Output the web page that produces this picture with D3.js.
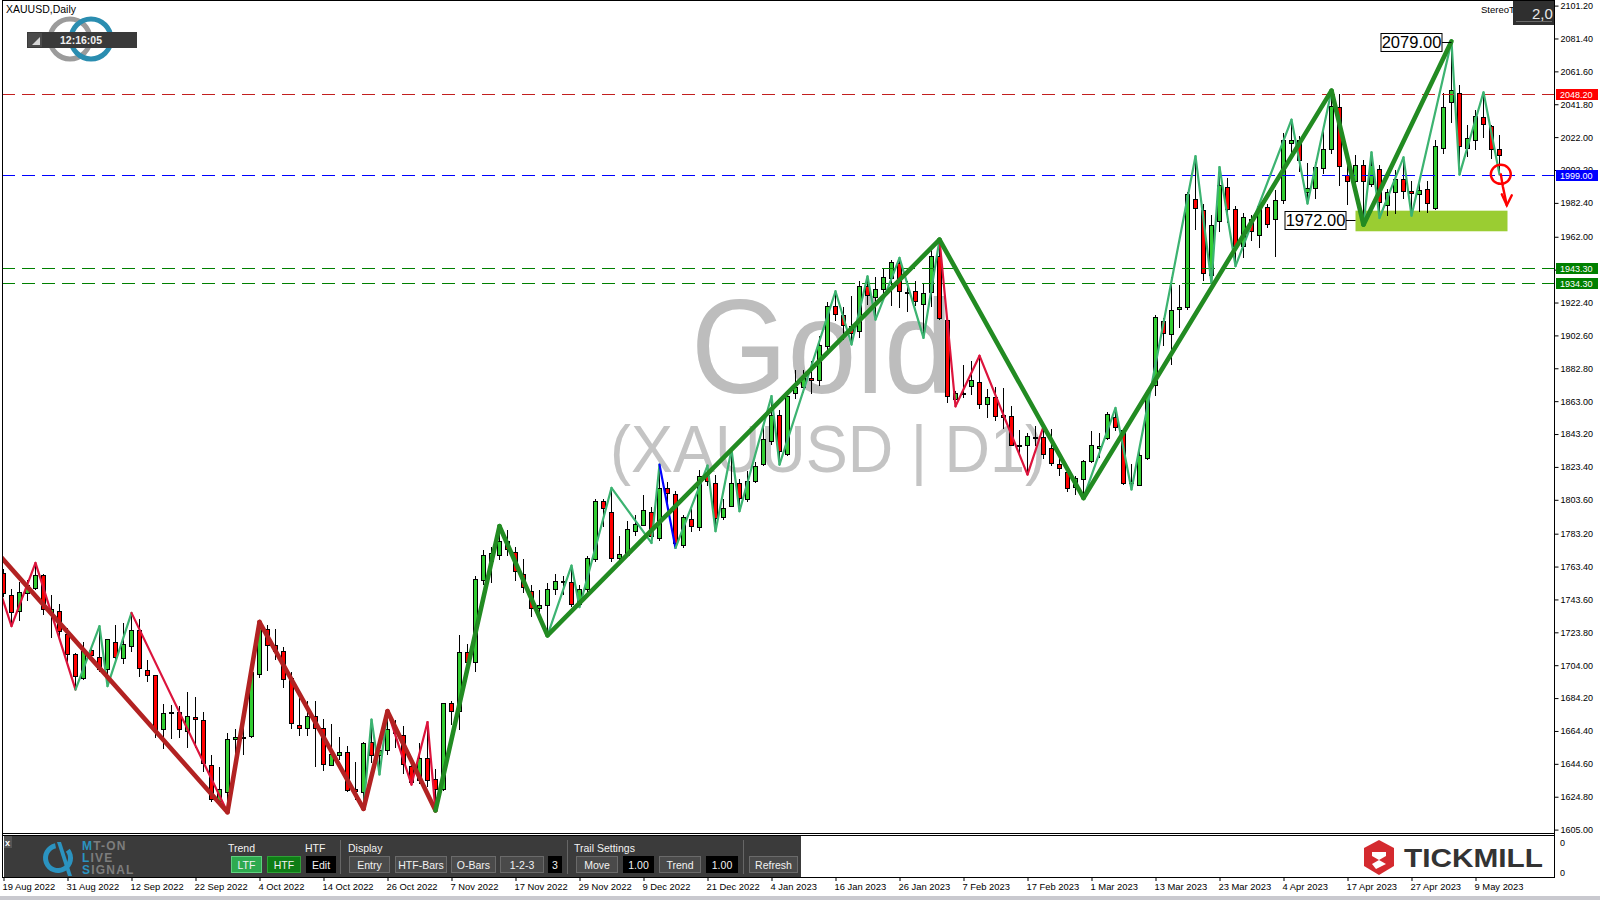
<!DOCTYPE html>
<html><head><meta charset="utf-8">
<script src="https://cdn.jsdelivr.net/npm/d3@7"></script>
<style>
html,body{margin:0;padding:0;background:#fff;overflow:hidden;}
svg{display:block;}
text{font-family:"Liberation Sans",Arial,sans-serif;}
</style></head><body>
<svg id="c" width="1600" height="900"></svg>
<script>
// ---------------- DATA ----------------
const dateLabels = ["19 Aug 2022","31 Aug 2022","12 Sep 2022","22 Sep 2022","4 Oct 2022","14 Oct 2022","26 Oct 2022","7 Nov 2022","17 Nov 2022","29 Nov 2022","9 Dec 2022","21 Dec 2022","4 Jan 2023","16 Jan 2023","26 Jan 2023","7 Feb 2023","17 Feb 2023","1 Mar 2023","13 Mar 2023","23 Mar 2023","4 Apr 2023","17 Apr 2023","27 Apr 2023","9 May 2023"];
const dateLabelBars = [0,8,16,24,32,40,48,56,64,72,80,88,96,104,112,120,128,136,144,152,160,168,176,184];
const priceTicks = [2101.20,2081.40,2061.60,2041.80,2022.00,2002.20,1982.40,1962.00,1942.20,1922.40,1902.60,1882.80,1863.00,1843.20,1823.40,1803.60,1783.20,1763.40,1743.60,1723.80,1704.00,1684.20,1664.40,1644.60,1624.80,1605.00];

const open = [1759.6,1746.4,1736.7,1747.6,1750.6,1758.4,1735.5,1736.7,1722.9,1710.8,1696.4,1713,1709,1701.8,1718,1708.4,1715.8,1724.9,1701.4,1697.8,
1665.3,1675.5,1675.7,1664.3,1672.9,1670.9,1644,1622.1,1627.5,1659.6,1660.8,1661.2,1698.8,1725.9,1716.2,1712.4,1696.4,1667.9,1666.3,1673.7,
1666.3,1644.2,1650.2,1651.8,1629.5,1627.5,1657.8,1649.8,1652.8,1664.9,1662.1,1643.6,1634.8,1648.2,1635.6,1629.5,1681.3,1676.2,1711.8,1706,
1755.6,1767,1770.2,1778.7,1772,1759,1748.6,1738.5,1740,1750,1754.6,1754,1741,1750,1768,1803.1,1796.3,1768.6,1770.6,1784.7,
1788.7,1796.3,1780.7,1810.8,1807.2,1776.2,1792.1,1787.3,1817.8,1813.8,1793.3,1800.1,1813.8,1804.1,1814.8,1825.2,1838.9,1854.5,1831.4,1868,
1871.6,1877,1876,1896.5,1920.2,1915.1,1908.1,1905.1,1932.2,1925.8,1930.6,1937.2,1946.2,1928.8,1929.2,1921.8,1928.6,1950.3,1912.1,1864,
1867.7,1872,1874.4,1861.5,1865.6,1854.9,1853.9,1836.3,1836.3,1841.5,1841.5,1834.9,1825.2,1820.2,1811.4,1816.2,1826.8,1834.9,1840.9,1853.3,
1845.5,1813.8,1812.8,1828.8,1873,1911.1,1903.5,1918.5,1919.5,1984.8,1978,1939.2,1971.3,1992,1978.8,1956.3,1972.7,1963.3,1980,1972.7,
1984,2018.5,2020.5,1988.8,1991.4,2003.5,2014.9,2040.2,1999,1995.4,2005.1,1994,2002.9,1981.4,1989,1996.8,1989.8,1988,1990.8,1979.4,
2015.5,2043,2048.6,2015.5,2020.5,2034,2028.5,2014.9];
const high = [1762,1749.6,1754.2,1755.6,1765.6,1759.2,1746,1741.1,1726.5,1711.4,1718,1715,1727.5,1720,1728,1729.5,1735.5,1731.9,1707.4,1698.2,
1680.9,1680.3,1679.7,1688,1685,1675.7,1650,1642.8,1662.9,1665.3,1675.5,1700,1729.5,1728.5,1726,1715,1699.8,1684.3,1682.7,1682.3,
1671.7,1668.7,1660.8,1655.2,1645.8,1658,1671.3,1656.8,1676.3,1671.3,1667.3,1648.6,1657.2,1669.7,1641.2,1681.5,1682.5,1722,1717,1757.6,
1773.2,1775,1787.7,1785.7,1775.2,1768,1752,1749,1753.6,1759,1758,1764,1752,1770,1804.1,1804.1,1810.8,1781.7,1790.7,1794.7,
1806.4,1799,1824.8,1814.4,1809.2,1794.7,1798.1,1821.8,1824.2,1818.8,1804.1,1833.9,1816.2,1820.8,1826.2,1849.9,1865.9,1857.9,1869,1882,
1881.6,1887,1902.1,1922.6,1929.2,1920,1926.2,1935.2,1938.2,1937.8,1942.6,1948.2,1949.3,1935.2,1935.2,1934.2,1955.3,1960.3,1913.1,1869,
1885,1887,1890.4,1870.4,1871.6,1871,1860,1845.9,1843.9,1848,1848,1846.3,1829.8,1822.8,1817.8,1827.8,1844.9,1844,1856.3,1858.9,
1846.3,1825,1835.9,1870,1915.1,1913.1,1937.6,1933,1989,2010.5,1982,1975,2004,1997.4,1980.8,1976.4,1975.4,1981.4,1981.8,1990,
2024.5,2032.5,2022.5,2006.5,2007,2028.5,2050,2048,2012.5,2011.5,2008,2012.9,2005.5,1990.8,2002.5,2009.8,1995.4,1995.4,1995.4,2020,
2048.6,2079.7,2053.6,2029,2038.2,2049,2029.5,2023];
const low = [1745,1727.5,1730.5,1742.5,1749,1734.1,1720.5,1721.1,1706,1689.3,1695,1707.4,1700,1691.4,1705,1705,1712,1697,1694,1660.3,
1653.8,1659.7,1660.3,1654.2,1654.2,1639.6,1621.5,1620.1,1615.5,1641.6,1650,1660.3,1696,1700.4,1707.4,1690.4,1665.3,1661.3,1661.3,1642.8,
1640.2,1643.6,1647.2,1627.5,1623.1,1617.5,1645,1638.2,1650.2,1654.2,1638.2,1631.8,1632.2,1630.8,1616.5,1628.5,1668,1665,1702,1700,
1752,1753.6,1767.6,1770,1754.6,1747.5,1733,1731,1722,1746,1746,1739,1739,1746,1766,1787,1766,1767.6,1769.2,1781.7,
1787.7,1777.6,1779,1799,1774.6,1774.6,1784.1,1784.7,1811.8,1784.7,1791.3,1799.3,1796.7,1802,1813.8,1823.8,1836.9,1824.8,1830.2,1864.4,
1868,1867.6,1872,1893.1,1911.1,1900,1897.1,1901.1,1921.2,1912.1,1925,1920.2,1919,1916.5,1920.5,1901.1,1920,1911.7,1861.9,1859.9,
1865,1867,1858.3,1853,1850.9,1846,1835.9,1829.8,1818.8,1835.9,1828,1824.2,1817.8,1808,1806.5,1804.7,1825.8,1829,1839.9,1845,
1812.8,1809.8,1811.8,1827.8,1866,1896,1885,1907,1918,1966.3,1935.2,1934,1965,1970,1944.3,1949,1959.3,1955.3,1967.3,1949.7,
1982,2008,2001,1982,1985,2000,2012,1992.4,1981,1990,1969.3,1992,1973.3,1974.7,1976,1985,1974.7,1976.7,1976.4,1978,
2012,2030.5,1999.4,2010,2014,2021.5,2009,1999.4];
const close = [1747.6,1736.1,1748.2,1752,1758.4,1737.9,1737.9,1724.7,1710.8,1697.4,1712.4,1710,1701.8,1719.5,1709,1716.8,1724.9,1702.6,1697.8,1664.3,
1675.3,1675.7,1665.3,1673.3,1671.7,1645.2,1623.5,1629.5,1659.6,1660.8,1661,1699.8,1726.5,1716.2,1712.8,1695.4,1668.9,1666.3,1673.7,1666.3,
1644.8,1650.6,1651.8,1629.1,1628,1657.2,1649.8,1653.2,1665.7,1663.3,1644.6,1633.8,1648.2,1634.8,1629.5,1681.3,1676.2,1711.8,1706,1755.9,
1770.6,1771.6,1778.7,1774,1760.6,1751.2,1738.5,1740,1750,1754.6,1754.4,1741,1750,1768.6,1803.1,1798.7,1768.6,1771,1786.1,1789.3,
1797.7,1781.7,1810.8,1807.8,1777.6,1793.3,1788.1,1817.8,1814.8,1792.7,1798.7,1813.8,1804.7,1814.8,1823.8,1840.3,1854.5,1832.8,1866.4,1871.6,
1877,1875.6,1897.1,1920.5,1915.7,1909.1,1904.1,1932.2,1927.2,1930.8,1937.8,1946.8,1929.2,1928.5,1923.6,1928.2,1950.3,1913.1,1866.4,1867.9,
1867.6,1875.6,1861.5,1865.6,1854.3,1853.5,1836.9,1836.1,1841.9,1841.5,1831.4,1825.8,1822.8,1810.8,1816.8,1826.8,1836.3,1835.9,1855.3,1847.5,
1813.8,1815,1830.8,1867.6,1913.7,1904.1,1918.1,1919.7,1987.9,1979.4,1940.2,1968.9,1993.4,1978.8,1956.3,1974,1965.3,1980.4,1969.9,1984,
2020.1,2020.5,2008.1,1991.4,2004.1,2014.9,2041,2004.9,1995.4,2005.1,1995.4,2005.1,1982.8,1988.8,1996.8,1989.4,1988.4,1990.4,1982.4,2016.9,
2040.2,2050.2,2016.9,2021.5,2034.6,2030.2,2014.9,2011.5];

// higher-timeframe zigzag pivots (bar index, price) and trend of each segment
const htfBars   = [-6,28,32,45,48,54,62,68,117,135,166,170,181];
const htfPrices = [1800,1615.5,1730,1617.5,1676.3,1616.5,1787.7,1722,1960.3,1804.7,2050,1969.3,2079.7];
const htfTrend  = ['d','d','d','d','d','u','u','u','u','u','u','u'];
// lower-timeframe zigzag pivots
const ltfBars   = [-1,1,4,9,12,13,16,28,32,45,46,47,48,51,53,54,62,68,71,72,76,81,82,84,88,89,91,92,96,97,104,106,108,109,112,115,117,119,122,128,130,135,139,141,149,151,152,154,161,163,166,170,171,172,175,176,181,182,185,187];
const ltfPrices = [1757,1727.5,1765.6,1689.3,1727.5,1691.4,1735.5,1615.5,1730,1617.5,1671.3,1638.2,1676.3,1632.1,1669.7,1616.5,1787.7,1722,1764,1739,1810.8,1777.6,1824.8,1774.6,1824.2,1784.7,1833.9,1796.7,1866,1824.8,1929.2,1897.1,1938.2,1912.1,1949.3,1901.1,1960.3,1859.9,1890.4,1818.8,1847.9,1804.7,1858.9,1809.8,2010.5,1934,2004,1944.3,2032.5,1982,2050,1969.3,2012.9,1973.3,2009.8,1974.7,2079.7,1999.4,2049,1999.4];
const ltfTrend  = ['d','d','d','u','u','u','d','d','d','u','u','u','d','d','d','u','u','u','u','u','u','u','b','u','u','u','u','u','u','u','u','u','u','u','u','u','d','d','d','d','d','u','u','u','u','u','u','u','u','u','u','u','u','u','u','u','u','u','u'];

const levelValues = [2048.20,1999.00,1943.30,1934.30];
const levelKinds  = ['res','pivot','sup','sup'];
const zone = {fromBar:169, toBar:188, top:1977.7, bottom:1965.3};
const notes = [{bar:181, price:2079.00},{bar:169, price:1972.00}];
const signal = {bar:187, price:1999.0};

// ---------------- LAYOUT ----------------
const svg = d3.select('#c');
const PL=2, PR=1554, PT=0, PB=833;
const x = d3.scaleLinear().domain([0,187]).range([3.5,3.5+8*187]);
const y = d3.scaleLinear().domain([1605,2101.2]).range([829.6,5.6]);

const colors = {bull:'#32CD32', bear:'#FF0000', u:'#3CB371', d:'#DC143C', b:'#0000FF',
  U:'#228B22', D:'#B22222', res:'#C21F1F', pivot:'#0000FF', sup:'#008000'};

svg.append('rect').attr('width',1600).attr('height',900).attr('fill','#fff');
const defs = svg.append('defs');
defs.append('clipPath').attr('id','pc').append('rect').attr('x',PL+1).attr('y',PT+1).attr('width',PR-PL-1).attr('height',PB-PT-1);

const plot = svg.append('g').attr('clip-path','url(#pc)');

// watermark
plot.append('text').attr('x',822).attr('y',393).attr('text-anchor','middle')
  .attr('font-family','"Open Sans",sans-serif').attr('font-size',134).attr('fill','#bdbdbd')
  .attr('textLength',262).attr('lengthAdjust','spacingAndGlyphs').text('Gold');
plot.append('text').attr('x',828).attr('y',472).attr('text-anchor','middle')
  .attr('font-family','"Open Sans",sans-serif').attr('font-size',66).attr('fill','#c4c4c4')
  .attr('textLength',436).attr('lengthAdjust','spacingAndGlyphs').text('(XAUUSD | D1)');

// zone
plot.append('rect').attr('x',x(zone.fromBar)).attr('width',x(zone.toBar)-x(zone.fromBar))
  .attr('y',y(zone.top)).attr('height',y(zone.bottom)-y(zone.top)).attr('fill','#9ACD32');

// candles
const idx = d3.range(open.length);
const cg = plot.append('g');
cg.selectAll('line').data(idx).join('line')
  .attr('x1',i=>x(i)).attr('x2',i=>x(i))
  .attr('y1',i=>Math.round(y(high[i]))).attr('y2',i=>Math.round(y(low[i])))
  .attr('stroke','#000').attr('stroke-width',1);
cg.selectAll('rect').data(idx).join('rect')
  .attr('x',i=>x(i)-2).attr('width',4)
  .attr('y',i=>Math.round(y(Math.max(open[i],close[i])))+0.5)
  .attr('height',i=>Math.max(1,Math.round(y(Math.min(open[i],close[i])))-Math.round(y(Math.max(open[i],close[i])))))
  .attr('fill',i=>close[i]>=open[i]?colors.bull:colors.bear)
  .attr('stroke','#000').attr('stroke-width',1);

// levels
const lg = plot.append('g');
levelValues.forEach((v,k)=>{
  lg.append('line').attr('x1',PL).attr('x2',PR).attr('y1',Math.round(y(v))+0.5).attr('y2',Math.round(y(v))+0.5)
    .attr('stroke',colors[levelKinds[k]]).attr('stroke-width',1).attr('stroke-dasharray','13,7');
});

// zigzags
function drawZig(bars, prices, trend, width, upper){
  for(let k=0;k<bars.length-1;k++){
    const key = upper ? trend[k].toUpperCase() : trend[k];
    plot.append('line').attr('x1',x(bars[k])).attr('y1',y(prices[k]))
      .attr('x2',x(bars[k+1])).attr('y2',y(prices[k+1]))
      .attr('stroke',colors[key]).attr('stroke-width',width).attr('stroke-linecap','round');
  }
}
drawZig(ltfBars, ltfPrices, ltfTrend, 2.2, false);
drawZig(htfBars, htfPrices, htfTrend, 4.6, true);

// price notes
notes.forEach(n=>{
  const ax=x(n.bar), ay=y(n.price);
  const bw=61, bh=18, bx=ax-10-bw;
  plot.append('line').attr('x1',bx+bw).attr('x2',ax).attr('y1',Math.round(ay)+0.5).attr('y2',Math.round(ay)+0.5).attr('stroke','#000');
  plot.append('rect').attr('x',bx+0.5).attr('y',Math.round(ay-bh/2)+0.5).attr('width',bw).attr('height',bh)
    .attr('fill','#fff').attr('stroke','#000');
  plot.append('text').attr('x',bx+bw/2+0.5).attr('y',ay+6).attr('text-anchor','middle')
    .attr('font-size',16.5).attr('fill','#000').text(n.price.toFixed(2));
});

// signal circle + arrow
{
  const sx=x(signal.bar)+1.3, sy=y(signal.price)-1;
  const sg=plot.append('g').attr('stroke','#FF0000').attr('stroke-width',2.4).attr('fill','none').attr('stroke-linecap','round');
  sg.append('ellipse').attr('cx',sx).attr('cy',sy).attr('rx',10).attr('ry',9.5);
  sg.append('path').attr('d',`M${sx},${sy} L${sx+2},${sy+12} L${sx+6},${sy+31}`);
  sg.append('path').attr('d',`M${sx+1},${sy+20} L${sx+6},${sy+31} L${sx+11},${sy+21}`);
}

// top-left labels
svg.append('text').attr('x',6).attr('y',13).attr('font-size',10.5).attr('fill','#000').text('XAUUSD,Daily');
{
  const lg2=svg.append('g');
  lg2.append('circle').attr('cx',70).attr('cy',39).attr('r',20).attr('fill','none').attr('stroke','#9b9b9b').attr('stroke-width',5);
  lg2.append('circle').attr('cx',91).attr('cy',39).attr('r',20).attr('fill','none').attr('stroke','#2a8db0').attr('stroke-width',5);
  lg2.append('rect').attr('x',27).attr('y',32).attr('width',110).attr('height',16).attr('fill','#3a3a3a');
  lg2.append('rect').attr('x',28).attr('y',33).attr('width',14).attr('height',14).attr('fill','#4b4b4b');
  lg2.append('path').attr('d','M32,45 L40,45 L40,37 Z').attr('fill','#d8d8d8');
  lg2.append('text').attr('x',81).attr('y',44).attr('text-anchor','middle').attr('font-size',10.5).attr('font-weight','bold').attr('fill','#f0f0f0').text('12:16:05');
}
// top-right
svg.append('text').attr('x',1481).attr('y',13).attr('font-size',9.5).attr('fill','#000').text('StereoT');
svg.append('rect').attr('x',1513).attr('y',1).attr('width',41).attr('height',24).attr('fill','#2f2f2f');
svg.append('line').attr('x1',1516).attr('x2',1552).attr('y1',21.5).attr('y2',21.5).attr('stroke','#6a6a6a');
svg.append('text').attr('x',1532).attr('y',19).attr('font-size',15).attr('fill','#e8e8e8').text('2,0');

// frame
svg.append('line').attr('x1',PL).attr('x2',PR).attr('y1',0.5).attr('y2',0.5).attr('stroke','#000');
svg.append('line').attr('x1',PL+0.5).attr('x2',PL+0.5).attr('y1',0).attr('y2',878).attr('stroke','#000');
svg.append('line').attr('x1',PR+0.5).attr('x2',PR+0.5).attr('y1',0).attr('y2',878).attr('stroke','#000');
svg.append('line').attr('x1',PL).attr('x2',PR).attr('y1',833.5).attr('y2',833.5).attr('stroke','#000');
svg.append('line').attr('x1',PL).attr('x2',PR).attr('y1',835.5).attr('y2',835.5).attr('stroke','#000');
svg.append('line').attr('x1',PL).attr('x2',PR).attr('y1',877.5).attr('y2',877.5).attr('stroke','#000');

// price axis
const yAxis = d3.axisRight(y).tickValues(priceTicks).tickFormat(d=>d.toFixed(2)).tickSize(4).tickPadding(2);
const ya = svg.append('g').attr('transform',`translate(${PR+0.5},0)`).call(yAxis);
ya.select('.domain').remove();
ya.selectAll('text').attr('font-family','"Liberation Sans",Arial,sans-serif').attr('font-size',9).attr('fill','#000');
ya.selectAll('line').attr('stroke','#000');

// level labels on the axis
levelValues.forEach((v,k)=>{
  const yy=Math.round(y(v));
  svg.append('rect').attr('x',PR+2).attr('y',yy-5).attr('width',42).attr('height',11).attr('fill',colors[levelKinds[k]==='res'?'bear':levelKinds[k]]);
  svg.append('text').attr('x',PR+6).attr('y',yy+4).attr('font-size',9).attr('fill','#fff').text(v.toFixed(2));
});

// sub-window axis
svg.append('text').attr('x',1560).attr('y',846).attr('font-size',9).text('0');
svg.append('text').attr('x',1560).attr('y',876).attr('font-size',9).text('0');

// date axis
const xAxis = d3.axisBottom(x).tickValues(dateLabelBars).tickFormat((d,i)=>dateLabels[i]).tickSize(3).tickPadding(2);
const xa = svg.append('g').attr('transform','translate(0,878)').call(xAxis);
xa.select('.domain').remove();
xa.selectAll('text').attr('font-family','"Liberation Sans",Arial,sans-serif').attr('font-size',9.4)
  .attr('text-anchor','start').attr('dx',-1.5).attr('fill','#000');
xa.selectAll('line').attr('stroke','#000');
svg.append('rect').attr('x',0).attr('y',896).attr('width',1600).attr('height',4).attr('fill','#c9c9cf');

// control panel
{
  const p=svg.append('g');
  p.append('rect').attr('x',4).attr('y',836).attr('width',797).attr('height',41).attr('fill','#3b3b3b');
  p.append('rect').attr('x',4).attr('y',836).attr('width',8).attr('height',12).attr('fill','#555');
  p.append('text').attr('x',5).attr('y',846).attr('font-size',9).attr('font-weight','bold').attr('fill','#fff').text('x');
  // logo
  p.append('path').attr('d',d3.arc()({innerRadius:10,outerRadius:15,startAngle:0.9,endAngle:2*Math.PI-0.2}))
    .attr('transform','translate(58,858)').attr('fill','#2b93c0');
  p.append('path').attr('d','M57,842 L61,842 L72,876 L68,876 Z').attr('fill','#2b93c0');
  const lt=[['M','T-ON',850],['L','IVE',862],['S','IGNAL',874]];
  lt.forEach(r=>{
    const t=p.append('text').attr('x',82).attr('y',r[2]).attr('font-size',12).attr('font-weight','bold').attr('letter-spacing',1.2);
    t.append('tspan').attr('fill','#2b93c0').text(r[0]);
    t.append('tspan').attr('fill','#7d7d7d').text(r[1]);
  });
  const lab=(xx,s)=>p.append('text').attr('x',xx).attr('y',852).attr('font-size',10.5).attr('fill','#f2f2f2').text(s);
  lab(228,'Trend'); lab(305,'HTF'); lab(348,'Display'); lab(574,'Trail Settings');
  const btn=(x0,x1,s,fill,stroke)=>{
    p.append('rect').attr('x',x0+0.5).attr('y',856.5).attr('width',x1-x0).attr('height',16).attr('fill',fill).attr('stroke',stroke);
    p.append('text').attr('x',(x0+x1)/2+0.5).attr('y',868.5).attr('text-anchor','middle').attr('font-size',10.5).attr('fill','#f2f2f2').text(s);
  };
  btn(231,261,'LTF','#2eaa4f','#5fd17f');
  btn(267,300,'HTF','#0f7d16','#2fa036');
  btn(306,335,'Edit','#000','#000');
  btn(349,389,'Entry','#4a4a4a','#6a6a6a');
  btn(395,446,'HTF-Bars','#4a4a4a','#6a6a6a');
  btn(451,495,'O-Bars','#4a4a4a','#6a6a6a');
  btn(500,543,'1-2-3','#4a4a4a','#6a6a6a');
  btn(548,561,'3','#000','#000');
  btn(576,617,'Move','#4a4a4a','#6a6a6a');
  btn(623,653,'1.00','#000','#000');
  btn(659,700,'Trend','#4a4a4a','#6a6a6a');
  btn(706,737,'1.00','#000','#000');
  btn(749,797,'Refresh','#4a4a4a','#6a6a6a');
  [340,567,743].forEach(sx=>p.append('line').attr('x1',sx+0.5).attr('x2',sx+0.5).attr('y1',840).attr('y2',874).attr('stroke','#666'));
}
// Tickmill logo
{
  const t=svg.append('g');
  t.append('path').attr('d','M1379,840 L1394,848 L1394,866 L1379,875 L1364,866 L1364,848 Z').attr('fill','#d42a2f');
  t.append('path').attr('d','M1372,852 L1386,852 L1386,856 L1379,860 L1372,856 Z').attr('fill','#fff');
  t.append('path').attr('d','M1379,860 L1386,864 L1376,869 L1372,864 Z').attr('fill','#fff');
  t.append('text').attr('x',1404).attr('y',867).attr('font-size',26.5).attr('font-weight','bold').attr('fill','#333')
    .attr('textLength',139).attr('lengthAdjust','spacingAndGlyphs').text('TICKMILL');
}
</script></body></html>
